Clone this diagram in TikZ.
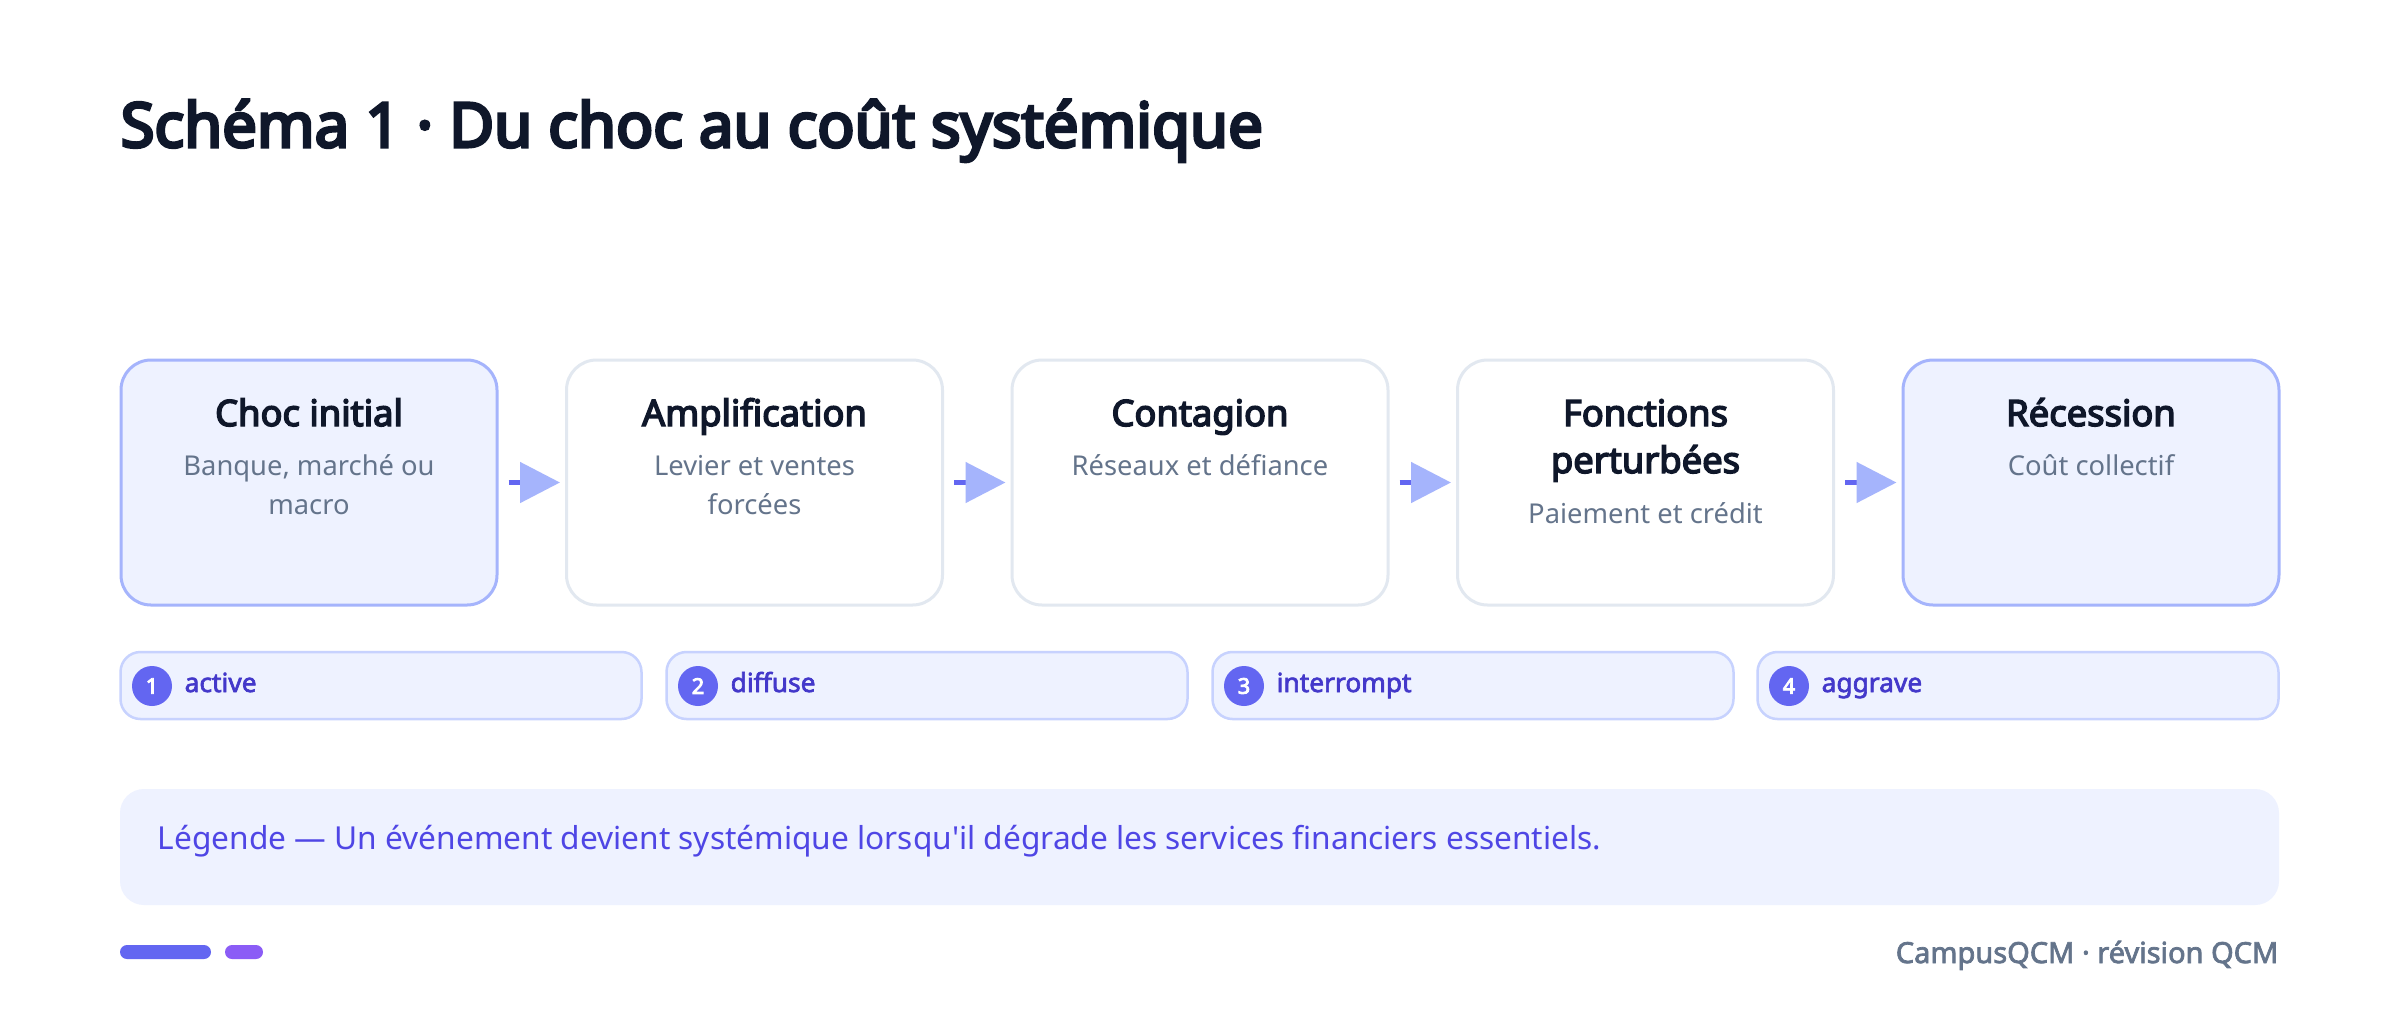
\documentclass[tikz,border=0pt]{standalone}
\usepackage{fontspec}
\setmainfont{Noto Sans}
\newfontfamily\regfont{Noto Sans}
\IfFontExistsTF{Noto Sans Bold}{%
  \newfontfamily\hfont{Noto Sans Bold}[FakeBold=1.6]%
  \newfontfamily\bfont{Noto Sans Bold}[FakeBold=0.8]}{%
  \newfontfamily\hfont{Noto Sans}[FakeBold=5]%
  \newfontfamily\bfont{Noto Sans}[FakeBold=4]}
\IfFontExistsTF{Noto Sans SemiBold}{\newfontfamily\sbfont{Noto Sans SemiBold}}{\IfFontExistsTF{Noto Sans Bold}{\newfontfamily\sbfont{Noto Sans Bold}}{\newfontfamily\sbfont{Noto Sans}[FakeBold=2.5]}}
\usetikzlibrary{arrows.meta,calc}
\definecolor{ink}{HTML}{0F172A}
\definecolor{muted}{HTML}{64748B}
\definecolor{softfill}{HTML}{EEF2FF}
\definecolor{accentborder}{HTML}{A5B4FC}
\definecolor{grayborder}{HTML}{E2E8F0}
\definecolor{pillborder}{HTML}{C7D2FE}
\definecolor{indigo}{HTML}{6366F1}
\definecolor{indigotext}{HTML}{4338CA}
\definecolor{legendtext}{HTML}{4F46E5}
\definecolor{violetbar}{HTML}{8B5CF6}
\begin{document}
\begin{tikzpicture}[x=0.3pt,y=-0.3pt,
  stagebox/.style={draw, rounded corners=9pt, minimum width=112.8pt, minimum height=73.5pt, line width=0.9pt, inner sep=0pt},
  keybox/.style={stagebox, fill=softfill, draw=accentborder},
  plainbox/.style={stagebox, fill=white, draw=grayborder},
  stagetitle/.style={anchor=base, font=\bfont\fontsize{10.9}{14}\selectfont, text=ink, inner sep=0pt},
  stagesub/.style={anchor=base, font=\regfont\fontsize{8.2}{12}\selectfont, text=muted, inner sep=0pt},
  flow/.style={line width=1.5pt, draw=indigo, -{Triangle[length=12pt,width=12pt,color=accentborder]}},
  pill/.style={draw=pillborder, fill=softfill, line width=0.75pt, rounded corners=6pt, minimum width=156.3pt, minimum height=20.1pt, inner sep=0pt},
  numdot/.style={circle, fill=indigo, minimum size=12pt, inner sep=0pt, text=white, font=\bfont\fontsize{6.5}{7}\selectfont},
  pilltext/.style={anchor=base west, inner sep=0pt, text=indigotext, font=\sbfont\fontsize{7.9}{10}\selectfont}
]
\useasboundingbox (0,0) rectangle (2400,1013);
\fill[white] (0,0) rectangle (2400,1013);

% title
\node[anchor=base west, inner sep=0pt, text=ink, font=\hfont\fontsize{18.5}{22}\selectfont] (title) at (120,147) {Schéma 1 · Du choc au coût systémique};

% stage boxes
\node[keybox]   (b1) at (309,482.5) {};
\node[plainbox] (b2) at (754.5,482.5) {};
\node[plainbox] (b3) at (1200,482.5) {};
\node[plainbox] (b4) at (1645.5,482.5) {};
\node[keybox]   (b5) at (2091,482.5) {};

\node[stagetitle] (t1) at (309,426) {Choc initial};
\node[stagesub] (s1a) at (309,475) {Banque, marché ou};
\node[stagesub] (s1b) at (309,514) {macro};

\node[stagetitle] (t2) at (754.5,426) {Amplification};
\node[stagesub] (s2a) at (754.5,475) {Levier et ventes};
\node[stagesub] (s2b) at (754.5,514) {forcées};

\node[stagetitle] (t3) at (1200,426) {Contagion};
\node[stagesub] (s3a) at (1200,475) {Réseaux et défiance};

\node[stagetitle] (t4a) at (1645.5,426) {Fonctions};
\node[stagetitle] (t4b) at (1645.5,473) {perturbées};
\node[stagesub] (s4a) at (1645.5,523) {Paiement et crédit};

\node[stagetitle] (t5) at (2091,426) {Récession};
\node[stagesub] (s5a) at (2091,475) {Coût collectif};

% connectors
\draw[flow] ($(b1.east)+(10,0)$) -- ($(b2.west)+(-5,0)$);
\draw[flow] ($(b2.east)+(10,0)$) -- ($(b3.west)+(-5,0)$);
\draw[flow] ($(b3.east)+(10,0)$) -- ($(b4.west)+(-5,0)$);
\draw[flow] ($(b4.east)+(10,0)$) -- ($(b5.west)+(-5,0)$);

% pills
\node[pill] (p1) at (381,685.5) {};
\node[pill] (p2) at (927,685.5) {};
\node[pill] (p3) at (1473,685.5) {};
\node[pill] (p4) at (2018,685.5) {};

\node[numdot] (n1) at (152,686) {1};
\node[numdot] (n2) at (698,686) {2};
\node[numdot] (n3) at (1244,686) {3};
\node[numdot] (n4) at (1789,686) {4};

\node[pilltext] (l1) at (184,692) {active};
\node[pilltext] (l2) at (730,692) {diffuse};
\node[pilltext] (l3) at (1276,692) {interrompt};
\node[pilltext] (l4) at (1821,692) {aggrave};

% legend
\fill[softfill, rounded corners=7.2pt] (120,789) rectangle (2279,905);
\node[anchor=base west, inner sep=0pt, text=legendtext, font=\regfont\fontsize{9.5}{11}\selectfont] (legend) at (157,849) {Légende — Un événement devient systémique lorsqu'il dégrade les services financiers essentiels.};

% footer
\fill[indigo, rounded corners=2.1pt] (120,945) rectangle (211,959);
\fill[violetbar, rounded corners=2.1pt] (225,945) rectangle (263,959);
\node[anchor=base east, inner sep=0pt, text=muted, font=\sbfont\fontsize{8.7}{10}\selectfont] (footer) at (2279,963) {CampusQCM · révision QCM};
\end{tikzpicture}
\end{document}
